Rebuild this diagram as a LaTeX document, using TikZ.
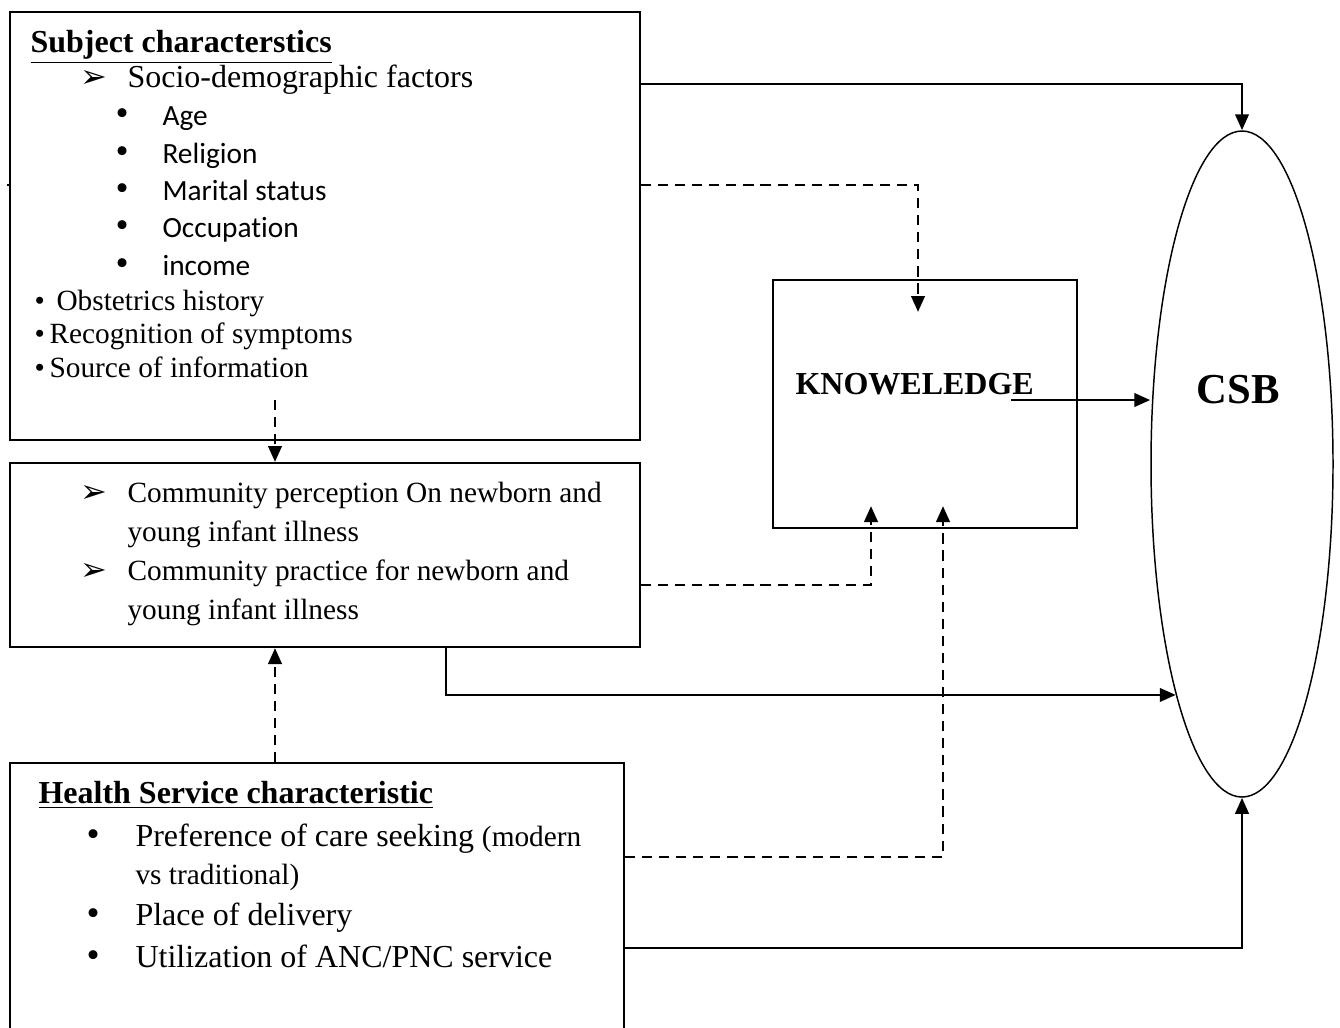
\documentclass[tikz,border=0pt]{standalone}
\usepackage{fontspec}
\setmainfont{Liberation Serif}
\newfontfamily\calibri[Ligatures=NoCommon]{Carlito}
\newfontfamily\dingfont{DejaVu Sans}
\usetikzlibrary{arrows.meta, shapes.geometric}

\begin{document}
\begin{tikzpicture}[x=0.375pt, y=-0.375pt,
		box/.style={draw, line width=0.75pt, inner sep=0pt},
		txt/.style={anchor=base west, inner sep=0pt, font=\fontsize{12}{14}\selectfont},
		small/.style={txt, font=\fontsize{11}{13}\selectfont},
		item/.style={txt, font=\calibri\fontsize{11}{13}\selectfont},
		dot/.style={txt, font=\fontsize{14}{14}\selectfont},
		pointer/.style={txt, font=\dingfont\fontsize{12}{12}\selectfont},
		solidarrow/.style={line width=1.1pt, -{Triangle[length=6pt,width=5pt]}},
		dasharrow/.style={solidarrow, dash pattern=on 3.8pt off 2.6pt}]
			
			\useasboundingbox (0,0) rectangle (1340,1027);
			
			% Riquadri
			\node[box, minimum width=236.25pt, minimum height=160.5pt] (subj) at (325,226) {};
			\node[box, minimum width=236.25pt, minimum height=69pt] (comm) at (325,555) {};
			\node[box, minimum width=230.25pt, minimum height=102pt] (health) at (317,899) {};
			\node[box, minimum width=114pt, minimum height=93pt] (know) at (925,404) {};
			\node[ellipse, draw, line width=0.55pt, inner sep=0pt, minimum width=68.25pt, minimum height=249.75pt] (csb) at (1242,464) {};
			
			% Caratteristiche del soggetto
			\node[txt] (subjtitle) at (30,52) {\underline{\textbf{Subject characterstics}}};
			\node[pointer] (sdptr) at (80,87) {➢};
			\node[txt] (sdtext) at (127,87) {Socio-demographic factors};
			\foreach \y/\t in {125/Age, 163/Religion, 200/Marital status, 237/Occupation, 275/income} {
				\node[dot] (dot\y) at (115,\y) {•};
				\node[item] (item\y) at (162,\y) {\t};
			}
			\node[small] (obstdot) at (34,310) {•};
			\node[small] (obst) at (56,310) {Obstetrics history};
			\node[small] (recdot) at (34,343) {•};
			\node[small] (rec) at (49,343) {Recognition of symptoms};
			\node[small] (srcdot) at (34,377) {•};
			\node[small] (src) at (49,377) {Source of information};
			
			% Comunita'
			\node[pointer] (percptr) at (80,502) {➢};
			\node[small] (perc1) at (127,502) {Community perception On newborn and};
			\node[small] (perc2) at (127,541) {young infant illness};
			\node[pointer] (pracptr) at (80,580) {➢};
			\node[small] (prac1) at (127,580) {Community practice for newborn and};
			\node[small] (prac2) at (127,619) {young infant illness};
			
			% Servizi sanitari
			\node[txt] (hstitle) at (38,803) {\underline{\textbf{Health Service characteristic}}};
			\node[dot] (prefdot) at (86,846) {•};
			\node[txt] (pref1) at (135,846) {Preference of care seeking {\fontsize{11}{13}\selectfont(modern}};
			\node[small] (pref2) at (135,884) {vs traditional)};
			\node[dot] (placedot) at (86,925) {•};
			\node[txt] (place) at (135,925) {Place of delivery};
			\node[dot] (utildot) at (86,967) {•};
			\node[txt] (util) at (135,967) {Utilization of ANC/PNC service};
			
			% Conoscenza e CSB
			\node[txt, font=\bfseries\fontsize{12}{14}\selectfont] (knowtext) at (795,394) {KNOWELEDGE};
			\node[anchor=base, inner sep=0pt, font=\bfseries\fontsize{16}{18}\selectfont] (csbtext) at (1238,403) {CSB};
			
			% Frecce continue
			\draw[solidarrow] (subj.east |- 0,84) -| (csb.north);
			\draw[solidarrow] (comm.south -| 446,0) |- (csb.254);
			\draw[solidarrow] (health.east |- 0,948) -| (csb.south);
			\coordinate (kout) at (1011,400);
			\draw[solidarrow] (kout) -- (csb.west |- kout);
			
			% Frecce tratteggiate
			\coordinate (k1) at (918,312);
			\draw[dasharrow] (subj.east |- 0,185) -| (k1);
			\coordinate (s1) at (275,400);
			\draw[dasharrow] (s1) -- (comm.north -| s1);
			\coordinate (k2) at (871,506);
			\draw[dasharrow] (comm.east |- 0,585) -| (k2);
			\draw[dasharrow] (health.north -| s1) -- (comm.south -| s1);
			\coordinate (k3) at (943,506);
			\draw[dasharrow] (health.east |- 0,857) -| (k3);
			
			% Trattino a sinistra
			\draw[line width=1.1pt] (7,185) -- (subj.west |- 0,185);
			
		\end{tikzpicture}
\end{document}
